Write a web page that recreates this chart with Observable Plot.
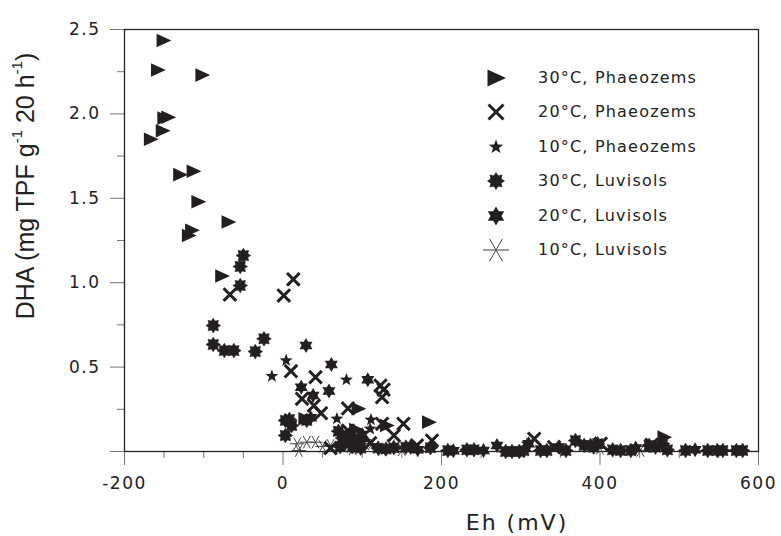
<!DOCTYPE html>
<html><head><meta charset="utf-8">
<script src="https://cdn.jsdelivr.net/npm/d3@7"></script>
<script src="https://cdn.jsdelivr.net/npm/@observablehq/plot@0.6"></script>
<style>
html,body{margin:0;padding:0;background:#fff;}
#wrap{position:relative;width:781px;height:536px;overflow:hidden;background:#fff;}
#wrap svg{display:block;}
.ytitle{position:absolute;left:25px;top:186px;transform:translate(-50%,-50%) rotate(-90deg);font-family:"Liberation Sans",Arial,sans-serif;font-size:25px;line-height:25px;white-space:nowrap;color:#222;}
.ytitle sup{font-size:0.6em;line-height:0;vertical-align:0.75em;}
.xtitle{position:absolute;left:517px;top:512px;transform:translateX(-50%);font-family:"DejaVu Sans",sans-serif;font-size:22px;line-height:22px;letter-spacing:2px;color:#222;white-space:nowrap;}
.lrow{position:absolute;left:481px;height:30px;display:flex;align-items:center;}
.lrow svg{width:30px;height:30px;flex:none;}
.lrow span{margin-left:27px;font-family:"DejaVu Sans",sans-serif;font-size:16px;line-height:20px;letter-spacing:1.2px;color:#222;white-space:nowrap;}
</style></head>
<body>
<div id="wrap"></div>
<script>
// ---- data ----
const seriesNames = ["30°C, Phaeozems","20°C, Phaeozems","10°C, Phaeozems","30°C, Luvisols","20°C, Luvisols","10°C, Luvisols"];

const phaeo30Eh  = [-151,-158,-102,-145,-150,-152,-167,-130,-113,-107,-69,-115,-119,-77,28,95,102,131,184,481,92];
const phaeo30Dha = [2.435,2.26,2.23,1.98,1.975,1.90,1.85,1.64,1.66,1.48,1.36,1.31,1.28,1.04,0.194,0.253,0.070,0.154,0.174,0.085,0.13];

const phaeo20Eh  = [-67,1,13,10,41,24,39,48,82,123,127,125,125,152,140,188,169,317,401,342,465,82,80,93,110,60];
const phaeo20Dha = [0.93,0.924,1.02,0.476,0.44,0.312,0.272,0.227,0.255,0.391,0.366,0.322,0.164,0.164,0.095,0.065,0.036,0.075,0.046,0.026,0.04,0.124,0.06,0.03,0.05,0.02];

const phaeo10Eh  = [4,-14,80,111,110,68,308];
const phaeo10Dha = [0.539,0.446,0.425,0.188,0.134,0.194,0.046];

const luvi30Eh  = [-50,-54,-54,-88,-88,-74,-62,-35,-24,3,8,11,3,30,70,75,78,85,88,92,72,98,120,130,140,155,161,186,208,232,241,281,289,298,304,325,333,357,369,380,388,397,392,416,426,439,462,470,479,485,508,536,548,555,572,580];
const luvi30Dha = [1.161,1.096,0.983,0.746,0.634,0.598,0.598,0.592,0.668,0.184,0.19,0.154,0.095,0.184,0.12,0.08,0.05,0.10,0.03,0.06,0.03,0.02,0.02,0.015,0.022,0.026,0.026,0.022,0.006,0.01,0.01,0,0,0,0.005,0.006,0.006,0.006,0.065,0.036,0.036,0.046,0.026,0.01,0.006,0.006,0.036,0.026,0.046,0.01,0.006,0.006,0.006,0.006,0.006,0.006];

const luvi20Eh  = [29,61,23,58,38,107,35,253,270,310,348,170,215,445,520,100];
const luvi20Dha = [0.628,0.515,0.38,0.359,0.332,0.425,0.2,0.006,0.036,0.046,0.026,0.01,0.005,0.02,0.01,0.1];

const luvi10Eh  = [18,30,41,20,60,77,112,136,150,99,400,451,460,125,88,50];
const luvi10Dha = [0.046,0.055,0.055,0.006,0.036,0.026,0.046,0.036,0.01,0.03,0.02,0.006,0.03,0.01,0.015,0.03];

const xMajorTicks = [-200,0,200,400,600];
const xMinorTicks = [-150,-100,-50,50,100,150,250,300,350,450,500,550];
const yMajorTicks = [0,0.5,1.0,1.5,2.0,2.5];
const yMinorTicks = [0.25,0.75,1.25,1.75,2.25];

// ---- symbols ----
function starSym(n, inner, rot){
  return {draw(ctx, size){
    const R = Math.sqrt(size/Math.PI);
    for(let i=0;i<2*n;i++){
      const a = rot + i*Math.PI/n, rr = i%2 ? R*inner : R;
      const x = rr*Math.cos(a), y = rr*Math.sin(a);
      if(i) ctx.lineTo(x,y); else ctx.moveTo(x,y);
    }
    ctx.closePath();
  }};
}
const triRight = {draw(ctx,size){const R=Math.sqrt(size/Math.PI);ctx.moveTo(-0.85*R,-0.85*R);ctx.lineTo(R,0);ctx.lineTo(-0.85*R,0.85*R);ctx.closePath();}};
const xMark = {draw(ctx,size){const R=Math.sqrt(size/Math.PI);ctx.moveTo(-R,-R);ctx.lineTo(R,R);ctx.moveTo(R,-R);ctx.lineTo(-R,R);}};
const asterSym = {draw(ctx,size){const R=Math.sqrt(size/Math.PI);for(let k=0;k<3;k++){const a=k*Math.PI/3,c=Math.cos(a)*R,s=Math.sin(a)*R;ctx.moveTo(-c,-s);ctx.lineTo(c,s);}}};
const star5 = starSym(5,0.42,-Math.PI/2);
const burst8 = starSym(8,0.66,-Math.PI/2);
const star6 = starSym(6,0.58,-Math.PI/2);

const ink = "#231f20";
const styles = [
  {sym: triRight, r: 8,   fill: ink, stroke: "none", sw: 0,   lr: 10},
  {sym: xMark,    r: 6.3, fill: "none", stroke: ink, sw: 3,  lr: 7.5},
  {sym: star5,    r: 6.8, fill: ink, stroke: "none", sw: 0,   lr: 7.5},
  {sym: burst8,   r: 7.3, fill: ink, stroke: ink, sw: 0.6,   lr: 8.5},
  {sym: star6,    r: 7.5, fill: ink, stroke: "none", sw: 0,   lr: 9.5},
  {sym: asterSym, r: 7.2, fill: "none", stroke: "#444", sw: 1, lr: 13}
];
const seriesEh  = [phaeo30Eh, phaeo20Eh, phaeo10Eh, luvi30Eh, luvi20Eh, luvi10Eh];
const seriesDha = [phaeo30Dha, phaeo20Dha, phaeo10Dha, luvi30Dha, luvi20Dha, luvi10Dha];
const drawOrder = [5,3,4,2,1,0];

const dotMarks = drawOrder.map(s => {
  const data = seriesEh[s].map((e,i) => ({eh: e, dha: seriesDha[s][i]}));
  const st = styles[s];
  return Plot.dot(data, {x: "eh", y: "dha", symbol: st.sym, r: st.r, fill: st.fill, stroke: st.stroke, strokeWidth: st.sw});
});

const chart = Plot.plot({
  width: 781, height: 536,
  marginLeft: 124, marginRight: 23, marginTop: 29, marginBottom: 85,
  x: {domain: [-200, 600], label: null},
  y: {domain: [0, 2.5], label: null},
  style: {fontFamily: "DejaVu Sans, sans-serif", fontSize: "17px", letterSpacing: "1.5px", color: "#222", background: "#fff"},
  marks: [
    Plot.axisX({ticks: xMinorTicks, tickSize: 7, tickFormat: () => "", stroke: "#777", label: null}),
    Plot.axisX({ticks: xMajorTicks, tickSize: 14, tickPadding: 11, tickFormat: d => String(d), stroke: "#777", fill: "#222", label: null}),
    Plot.axisY({ticks: yMinorTicks, tickSize: 7, tickFormat: () => "", stroke: "#777", label: null}),
    Plot.axisY({ticks: yMajorTicks, tickSize: 14, tickPadding: 10, tickFormat: d => d === 0 ? "" : d.toFixed(1), stroke: "#777", fill: "#222", label: null}),
    Plot.frame({stroke: "#222", strokeWidth: 1.3}),
    ...dotMarks
  ]
});

const wrap = document.getElementById("wrap");
wrap.appendChild(chart);

const yt = document.createElement("div");
yt.className = "ytitle";
yt.innerHTML = "DHA (mg TPF g<sup>-1</sup> 20 h<sup>-1</sup>)";
wrap.appendChild(yt);

const xt = document.createElement("div");
xt.className = "xtitle";
xt.textContent = "Eh (mV)";
wrap.appendChild(xt);

seriesNames.forEach((name, i) => {
  const st = styles[i];
  const row = document.createElement("div");
  row.className = "lrow";
  row.style.top = (63 + i*34.4) + "px";
  const svg = d3.create("svg").attr("viewBox", "-15 -15 30 30");
  svg.append("path")
    .attr("d", d3.symbol(st.sym, st.lr*st.lr*Math.PI)())
    .attr("fill", st.fill).attr("stroke", st.stroke).attr("stroke-width", st.sw);
  row.appendChild(svg.node());
  const sp = document.createElement("span");
  sp.textContent = name;
  row.appendChild(sp);
  wrap.appendChild(row);
});
</script>
</body></html>
